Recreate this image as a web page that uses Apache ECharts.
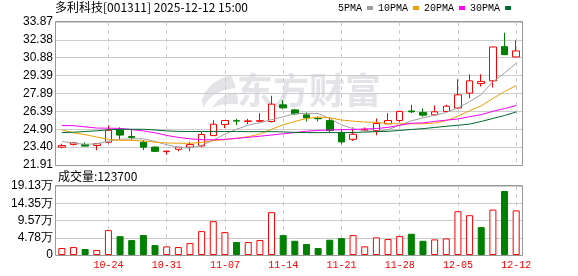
<!DOCTYPE html>
<html><head><meta charset="utf-8">
<script src="https://cdn.jsdelivr.net/npm/echarts@6/dist/echarts.min.js"></script>
<style>html,body{margin:0;padding:0;background:#fff}#c{width:578px;height:276px}</style>
</head><body><div id="c"></div>
<script>
const stockTitle = '多利科技[001311] 2025-12-12 15:00';
const dates = ['10-20','10-21','10-22','10-23','10-24','10-27','10-28','10-29','10-30','10-31',
  '11-03','11-04','11-05','11-06','11-07','11-10','11-11','11-12','11-13','11-14',
  '11-17','11-18','11-19','11-20','11-21','11-24','11-25','11-26','11-27','11-28',
  '12-01','12-02','12-03','12-04','12-05','12-08','12-09','12-10','12-11','12-12'];
const opens  = [23.40,23.63,23.63,23.54,23.82,24.84,24.30,23.82,23.41,23.03,
  23.22,23.40,23.50,24.37,25.30,25.62,25.55,25.57,25.55,26.94,
  26.52,26.10,25.82,25.63,24.63,24.06,24.79,24.79,25.35,25.63,
  26.43,26.31,26.11,26.39,26.67,27.92,28.72,28.95,31.81,30.95];
const closes = [23.54,23.77,23.49,23.69,24.81,24.41,24.22,23.40,23.05,23.07,
  23.40,23.62,24.46,25.32,25.63,25.58,25.60,25.62,27.00,26.69,
  26.19,25.85,25.78,24.79,23.84,24.48,24.90,25.38,25.63,26.39,
  26.36,26.08,26.36,26.83,27.78,28.95,28.89,31.78,31.14,31.45];
const lows   = [23.30,23.54,23.49,23.15,23.71,24.08,24.00,23.15,23.03,22.77,
  23.06,23.06,23.42,24.35,25.00,25.24,25.33,25.53,25.47,26.58,
  26.10,25.55,25.55,24.63,23.64,23.92,24.75,24.40,25.33,25.47,
  26.25,25.95,26.03,26.37,26.58,27.50,28.47,28.39,31.10,30.93];
const highs  = [23.69,23.82,23.80,23.69,25.23,25.06,24.84,24.00,23.45,23.08,
  23.42,23.84,24.68,25.66,25.65,25.77,25.77,26.25,27.70,27.34,
  26.60,26.30,25.97,25.91,24.90,25.05,25.05,25.80,26.25,26.42,
  26.95,26.64,26.89,26.95,29.08,29.50,29.50,31.80,32.97,32.33];
const volumes = [19300,22000,16600,13800,69000,52400,41400,55200,27600,23900,
  22000,33100,66200,93800,63500,35900,35900,41400,118700,55200,
  39500,30400,19300,42300,46900,55200,23900,48800,44200,52400,
  58900,39500,43300,46000,121400,110400,77300,126000,177500,123700];
const ma5  = [23.87,23.75,23.64,23.68,23.90,24.05,24.10,24.10,23.88,23.60,
  23.38,23.34,23.56,23.98,24.50,24.90,25.25,25.45,25.70,25.95,
  26.20,26.23,26.22,25.80,25.27,24.95,24.77,24.72,24.86,25.25,
  25.60,25.85,26.07,26.30,26.70,27.20,27.80,28.87,29.60,30.42];
const ma10 = [24.84,24.60,24.45,24.25,24.05,23.98,23.97,23.92,23.82,23.75,
  23.73,23.72,23.80,23.95,24.03,24.15,24.28,24.50,24.90,25.27,
  25.55,25.80,25.92,25.85,25.67,25.58,25.50,25.48,25.38,25.35,
  25.36,25.36,25.42,25.62,26.00,26.45,26.86,27.48,28.05,28.56];
const ma20 = [25.21,25.20,25.10,25.00,24.99,24.97,24.87,24.76,24.60,24.38,
  24.22,24.10,24.03,24.02,24.06,24.14,24.22,24.32,24.42,24.52,
  24.62,24.74,24.80,24.84,24.86,24.88,24.92,24.96,25.06,25.23,
  25.40,25.43,25.56,25.66,25.76,25.95,26.12,26.40,26.63,26.89];
const ma30 = [24.62,24.65,24.71,24.77,24.85,24.90,24.90,24.90,24.84,24.76,
  24.72,24.71,24.71,24.71,24.71,24.71,24.70,24.70,24.70,24.68,
  24.64,24.62,24.62,24.62,24.62,24.63,24.66,24.70,24.73,24.80,
  24.88,24.95,25.05,25.15,25.23,25.33,25.55,25.80,26.05,26.35];
const priceTicks = [21.91,23.40,24.90,26.39,27.89,29.39,30.88,32.38,33.87];
const volTicks = [0,47800,95700,143500,191300];
const volTickLabels = ['0','4.78万','9.57万','14.35万','19.13万'];
const maNames = ['5PMA','10PMA','20PMA','30PMA'];
const maColors = ['#a0a0a0','#f0a000','#ff00ff','#006a30'];
const maData = [ma5, ma10, ma20, ma30];

const RED = '#ff0000', GREEN = '#008000';
const candleData = opens.map((o,i)=>[o, closes[i], lows[i], highs[i]]);
const volData = volumes.map((v,i)=>{
  const up = i === 0 ? closes[0] >= opens[0] : closes[i] >= closes[i-1];
  return {value: v, itemStyle: up ? {color:'#ffffff', borderColor: RED, borderWidth: 1}
                                  : {color: GREEN, borderColor: GREEN, borderWidth: 1}};
});
const dateInterval = (idx) => idx % 5 === 4;
const labelFont = {fontFamily: '"Liberation Sans", Arial, sans-serif', fontSize: 12, color: '#000'};
const titleFont = {fontFamily: '"Noto Sans CJK SC", sans-serif', fontSize: 12, fontWeight: 'normal', color: '#000'};

const chart = echarts.init(document.getElementById('c'), null, {renderer: 'canvas'});
chart.setOption({
  animation: false,
  backgroundColor: '#fff',
  title: [
    {text: stockTitle, left: 55, top: 1, padding: 0, textStyle: titleFont},
    {text: '成交量:' + volumes[volumes.length-1], left: 58, top: 170, padding: 0, textStyle: titleFont}
  ],
  legend: {
    data: maNames, left: 338, top: 3, padding: 0, itemGap: 5, align: 'right', icon: 'rect',
    itemWidth: 6, itemHeight: 4,
    textStyle: {fontFamily: '"Liberation Mono", monospace', fontSize: 10, color: '#000'}
  },
  graphic: [
    {type: 'polygon', silent: true, z: -10,
     shape: {points: [[231,75],[222,78],[212,84],[205,92],[202,100],[203,108],[208,100],[215,94],[224,90],[236,88],[234,82]]},
     style: {fill: '#e4e4e8'}},
    {type: 'polygon', silent: true, z: -10,
     shape: {points: [[236,92],[226,95],[218,100],[212,108],[220,105],[229,104],[238,104],[238,98]]},
     style: {fill: '#e4e4e8'}},
    {type: 'text', silent: true, z: -10, x: 237, y: 72,
     style: {text: '东方财富', font: 'bold 36px "Noto Sans CJK SC"', fill: '#e4e4e8', verticalAlign: 'top'}},
    {type: 'rect', silent: true, z: 100, shape: {x: 55.5, y: 21.5, width: 467, height: 144}, style: {fill: 'none', stroke: '#999', lineWidth: 1}},
    {type: 'rect', silent: true, z: 100, shape: {x: 55.5, y: 185.5, width: 467, height: 70}, style: {fill: 'none', stroke: '#999', lineWidth: 1}}
  ],
  grid: [
    {left: 56, top: 22, width: 466, height: 143},
    {left: 56, top: 186, width: 466, height: 69}
  ],
  xAxis: [
    {type: 'category', gridIndex: 0, data: dates, max: 39.4, boundaryGap: true,
     axisLine: {show: false}, axisTick: {show: false}, axisLabel: {show: false},
     splitLine: {show: true, interval: dateInterval, alignWithLabel: true, lineStyle: {color: '#ccc', type: [4,4], width: 1}}},
    {type: 'category', gridIndex: 1, data: dates, max: 39.4, boundaryGap: true,
     axisLine: {show: false}, axisTick: {show: false},
     axisLabel: {show: true, interval: dateInterval, color: RED, fontFamily: '"Liberation Mono", monospace', fontSize: 10, margin: 5},
     splitLine: {show: true, interval: dateInterval, alignWithLabel: true, lineStyle: {color: '#ccc', type: [4,4], width: 1}}}
  ],
  yAxis: [
    {type: 'value', gridIndex: 0, min: priceTicks[0], max: priceTicks[priceTicks.length-1],
     axisLine: {show: false}, axisTick: {show: false, customValues: priceTicks},
     axisLabel: Object.assign({customValues: priceTicks, margin: 3, formatter: v => v.toFixed(2)}, labelFont),
     splitLine: {show: true, lineStyle: {color: '#cccccc', width: 1}}},
    {type: 'value', gridIndex: 1, min: volTicks[0], max: volTicks[volTicks.length-1],
     axisLine: {show: false}, axisTick: {show: false, customValues: volTicks},
     axisLabel: Object.assign({customValues: volTicks, margin: 3, formatter: v => volTickLabels[volTicks.indexOf(v)]}, labelFont),
     splitLine: {show: true, lineStyle: {color: '#cccccc', width: 1}}}
  ],
  series: [
    {type: 'candlestick', name: 'K', xAxisIndex: 0, yAxisIndex: 0, data: candleData, barWidth: 7,
     itemStyle: {color: '#ffffff', color0: GREEN, borderColor: RED, borderColor0: GREEN, borderColorDoji: RED, borderWidth: 1}},
    {type: 'bar', name: 'VOL', xAxisIndex: 1, yAxisIndex: 1, data: volData, barWidth: 7}
  ].concat(maNames.map((n, k) => ({
    type: 'line', name: n, xAxisIndex: 0, yAxisIndex: 0, data: maData[k], symbol: 'none', showSymbol: false,
    color: maColors[k], lineStyle: {color: maColors[k], width: 1}, z: 3
  })))
});
</script></body></html>
